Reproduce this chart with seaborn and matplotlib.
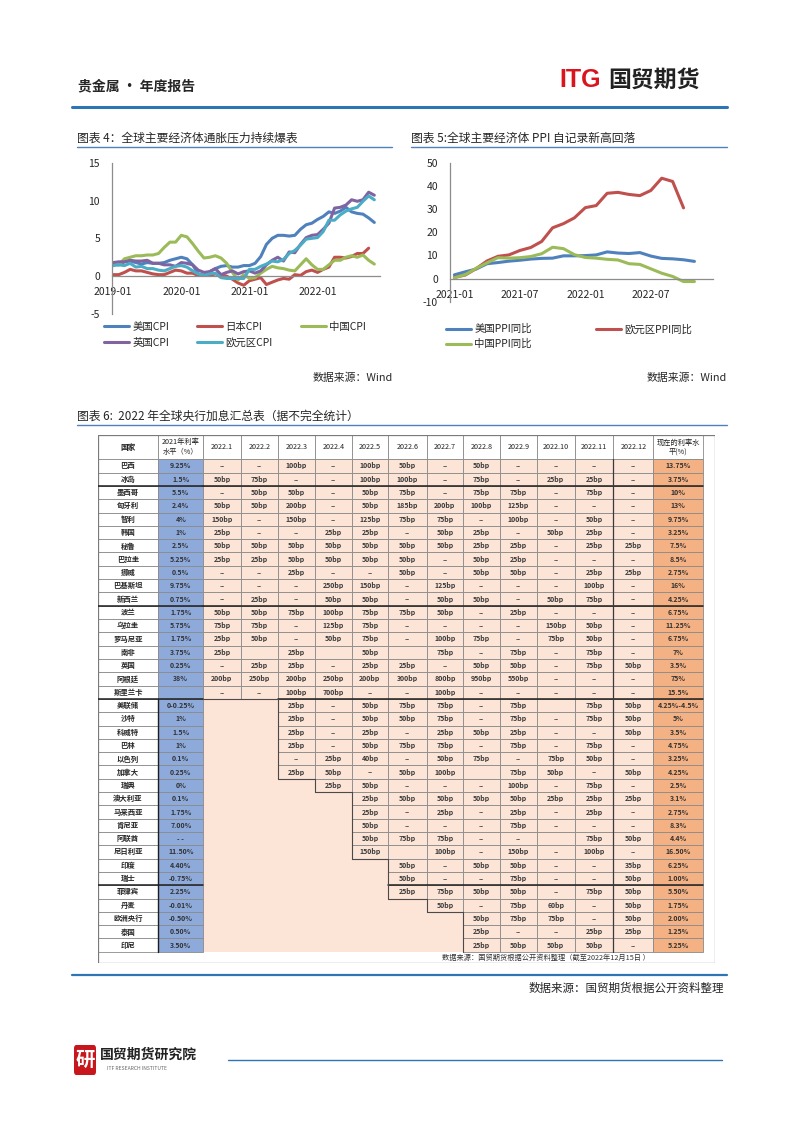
import numpy as np
import pandas as pd
import matplotlib
matplotlib.use("Agg")
import matplotlib.pyplot as plt
import seaborn as sns
from matplotlib.patches import Rectangle, FancyBboxPatch
from matplotlib.lines import Line2D

sns.set_theme(style="white")
plt.rcParams["font.family"] = ["Noto Sans CJK SC", "DejaVu Sans"]
plt.rcParams["axes.unicode_minus"] = False

# ---------------- data: chart 4 (CPI YoY, 2019-01 .. 2022-11) ----------------
cpi_ticks = ["2019-01", "2020-01", "2021-01", "2022-01"]
us_cpi = [1.6, 1.5, 1.9, 2.0, 1.8, 1.6, 1.8, 1.7, 1.7, 1.8, 2.1, 2.3,
          2.5, 2.3, 1.5, 0.3, 0.1, 0.6, 1.0, 1.3, 1.4, 1.2, 1.2, 1.4,
          1.4, 1.7, 2.6, 4.2, 5.0, 5.4, 5.4, 5.3, 5.4, 6.2, 6.8, 7.0,
          7.5, 7.9, 8.5, 8.3, 8.6, 9.1, 8.5, 8.3, 8.2, 7.7, 7.1]
jp_cpi = [0.2, 0.2, 0.5, 0.9, 0.7, 0.7, 0.5, 0.3, 0.2, 0.2, 0.5, 0.8,
          0.7, 0.4, 0.4, 0.1, 0.1, 0.1, 0.3, 0.2, 0.0, -0.4, -0.9, -1.2,
          -0.6, -0.4, -0.2, -1.1, -0.8, -0.5, -0.3, -0.4, 0.2, 0.1, 0.6, 0.8,
          0.5, 0.9, 1.2, 2.5, 2.5, 2.4, 2.6, 3.0, 3.0, 3.7]
cn_cpi = [1.7, 1.5, 2.3, 2.5, 2.7, 2.7, 2.8, 2.8, 3.0, 3.8, 4.5, 4.5,
          5.4, 5.2, 4.3, 3.3, 2.4, 2.5, 2.7, 2.4, 1.7, 0.5, -0.5, 0.2,
          -0.3, -0.2, 0.4, 0.9, 1.3, 1.1, 1.0, 0.8, 0.7, 1.5, 2.3, 1.5,
          0.9, 0.9, 1.5, 2.1, 2.1, 2.5, 2.7, 2.5, 2.8, 2.1, 1.6]
uk_cpi = [1.8, 1.9, 1.9, 2.1, 2.0, 2.0, 2.1, 1.7, 1.7, 1.5, 1.5, 1.3,
          1.8, 1.7, 1.5, 0.8, 0.5, 0.6, 1.0, 0.2, 0.5, 0.7, 0.3, 0.6,
          0.7, 0.4, 0.7, 1.5, 2.1, 2.5, 2.0, 3.2, 3.1, 4.2, 5.1, 5.4,
          5.5, 6.2, 7.0, 9.0, 9.1, 9.4, 10.1, 9.9, 10.1, 11.1, 10.7]
ea_cpi = [1.4, 1.5, 1.4, 1.7, 1.2, 1.3, 1.0, 1.0, 0.8, 0.7, 1.0, 1.3,
          1.4, 1.2, 0.7, 0.3, 0.1, 0.3, 0.4, -0.2, -0.3, -0.3, -0.3, -0.3,
          0.9, 0.9, 1.3, 1.6, 2.0, 1.9, 2.2, 3.0, 3.4, 4.1, 4.9, 5.0,
          5.1, 5.9, 7.4, 7.4, 8.1, 8.6, 8.9, 9.1, 9.9, 10.6, 10.1]

# ---------------- data: chart 5 (PPI YoY, 2021-01 .. 2022-11) ----------------
ppi_ticks = ["2021-01", "2021-07", "2022-01", "2022-07"]
us_ppi = [1.6, 2.9, 4.1, 6.4, 6.9, 7.5, 7.9, 8.4, 8.7, 8.8, 9.8, 9.8,
          9.9, 10.2, 11.5, 11.0, 10.8, 11.2, 9.7, 8.7, 8.5, 8.1, 7.4]
ea_ppi = [0.5, 1.5, 4.3, 7.6, 9.6, 10.2, 12.1, 13.4, 16.0, 21.9, 23.7, 26.2,
          30.6, 31.5, 36.8, 37.2, 36.3, 35.8, 38.0, 43.3, 41.9, 30.5]
cn_ppi = [0.3, 1.7, 4.4, 6.8, 9.0, 8.8, 9.0, 9.5, 10.7, 13.5, 12.9, 10.3,
          9.1, 8.8, 8.3, 8.0, 6.4, 6.1, 4.2, 2.3, 0.9, -1.3, -1.3]

# ---------------- data: table ----------------
table_header = ["国家", "2021年利率\n水平（%）", "2022.1", "2022.2", "2022.3", "2022.4",
                "2022.5", "2022.6", "2022.7", "2022.8", "2022.9", "2022.10",
                "2022.11", "2022.12", "现在的利率水\n平(%)"]
countries = ["巴西", "冰岛", "墨西哥", "匈牙利", "智利", "韩国", "秘鲁", "巴拉圭", "挪威",
             "巴基斯坦", "新西兰", "波兰", "乌拉圭", "罗马尼亚", "南非", "英国", "阿根廷",
             "斯里兰卡", "美联储", "沙特", "科威特", "巴林", "以色列", "加拿大", "瑞典",
             "澳大利亚", "马来西亚", "肯尼亚", "阿联酋", "尼日利亚", "印度", "瑞士", "菲律宾",
             "丹麦", "欧洲央行", "泰国", "印尼"]
rate_2021 = ["9.25%", "1.5%", "5.5%", "2.4%", "4%", "1%", "2.5%", "5.25%", "0.5%",
             "9.75%", "0.75%", "1.75%", "5.75%", "1.75%", "3.75%", "0.25%", "38%",
             "", "0-0.25%", "1%", "1.5%", "1%", "0.1%", "0.25%", "0%",
             "0.1%", "1.75%", "7.00%", "- -", "11.50%", "4.40%", "-0.75%", "2.25%",
             "-0.01%", "-0.50%", "0.50%", "3.50%"]
# monthly hikes; each row runs from its first active month up to 2022.12
hikes = [
    ["--", "--", "100bp", "--", "100bp", "50bp", "--", "50bp", "--", "--", "--", "--"],
    ["50bp", "75bp", "--", "--", "100bp", "100bp", "--", "75bp", "--", "25bp", "25bp", "--"],
    ["--", "50bp", "50bp", "--", "50bp", "75bp", "--", "75bp", "75bp", "--", "75bp", "--"],
    ["50bp", "50bp", "200bp", "--", "50bp", "185bp", "200bp", "100bp", "125bp", "--", "--", "--"],
    ["150bp", "--", "150bp", "--", "125bp", "75bp", "75bp", "--", "100bp", "--", "50bp", "--"],
    ["25bp", "--", "--", "25bp", "25bp", "--", "50bp", "25bp", "--", "50bp", "25bp", "--"],
    ["50bp", "50bp", "50bp", "50bp", "50bp", "50bp", "50bp", "25bp", "25bp", "--", "25bp", "25bp"],
    ["25bp", "25bp", "50bp", "50bp", "50bp", "50bp", "--", "50bp", "25bp", "--", "--", "--"],
    ["--", "--", "25bp", "--", "--", "50bp", "--", "50bp", "50bp", "--", "25bp", "25bp"],
    ["--", "--", "--", "250bp", "150bp", "--", "125bp", "--", "--", "--", "100bp", "--"],
    ["--", "25bp", "--", "50bp", "50bp", "--", "50bp", "50bp", "--", "50bp", "75bp", "--"],
    ["50bp", "50bp", "75bp", "100bp", "75bp", "75bp", "50bp", "--", "25bp", "--", "--", "--"],
    ["75bp", "75bp", "--", "125bp", "75bp", "--", "--", "--", "--", "150bp", "50bp", "--"],
    ["25bp", "50bp", "--", "50bp", "75bp", "--", "100bp", "75bp", "--", "75bp", "50bp", "--"],
    ["25bp", "", "25bp", "", "50bp", "", "75bp", "--", "75bp", "--", "75bp", "--"],
    ["--", "25bp", "25bp", "--", "25bp", "25bp", "--", "50bp", "50bp", "--", "75bp", "50bp"],
    ["200bp", "250bp", "200bp", "250bp", "200bp", "300bp", "800bp", "950bp", "550bp", "--", "--", "--"],
    ["--", "--", "100bp", "700bp", "--", "--", "100bp", "--", "--", "--", "--", "--"],
    ["25bp", "--", "50bp", "75bp", "75bp", "--", "75bp", "", "75bp", "50bp"],
    ["25bp", "--", "50bp", "50bp", "75bp", "--", "75bp", "--", "75bp", "50bp"],
    ["25bp", "--", "25bp", "--", "25bp", "50bp", "25bp", "--", "--", "50bp"],
    ["25bp", "--", "50bp", "75bp", "75bp", "--", "75bp", "--", "75bp", "--"],
    ["--", "25bp", "40bp", "--", "50bp", "75bp", "--", "75bp", "50bp", "--"],
    ["25bp", "50bp", "--", "50bp", "100bp", "", "75bp", "50bp", "--", "50bp"],
    ["25bp", "50bp", "--", "--", "--", "100bp", "--", "75bp", "--"],
    ["25bp", "50bp", "50bp", "50bp", "50bp", "25bp", "25bp", "25bp"],
    ["25bp", "--", "25bp", "--", "25bp", "--", "25bp", "--"],
    ["50bp", "--", "--", "--", "75bp", "--", "--", "--"],
    ["50bp", "75bp", "75bp", "--", "--", "", "75bp", "50bp"],
    ["150bp", "", "100bp", "--", "150bp", "--", "100bp", "--"],
    ["50bp", "--", "50bp", "50bp", "--", "--", "35bp"],
    ["50bp", "--", "--", "75bp", "--", "--", "50bp"],
    ["25bp", "75bp", "50bp", "50bp", "--", "75bp", "50bp"],
    ["50bp", "--", "75bp", "60bp", "--", "50bp"],
    ["50bp", "75bp", "75bp", "--", "50bp"],
    ["25bp", "--", "--", "25bp", "25bp"],
    ["25bp", "50bp", "50bp", "50bp", "--"],
]
rate_now = ["13.75%", "3.75%", "10%", "13%", "9.75%", "3.25%", "7.5%", "8.5%", "2.75%",
            "16%", "4.25%", "6.75%", "11.25%", "6.75%", "7%", "3.5%", "75%", "15.5%",
            "4.25%-4.5%", "5%", "3.5%", "4.75%", "3.25%", "4.25%", "2.5%", "3.1%", "2.75%",
            "8.3%", "4.4%", "16.50%", "6.25%", "1.00%", "5.50%", "1.75%", "2.00%", "1.25%",
            "5.25%"]

# ---------------- layout helpers ----------------
W, H = 802, 1133
fig = plt.figure(figsize=(W / 100, H / 100), dpi=100)
fig.patch.set_facecolor("white")


def fx(x):
    return x / W


def fy(y):
    return 1 - y / H


def px_axes(x0, y0, x1, y1):
    return fig.add_axes([x0 / W, 1 - y1 / H, (x1 - x0) / W, (y1 - y0) / H])


def hline(x0, x1, y, color, lw):
    fig.add_artist(Line2D([fx(x0), fx(x1)], [fy(y), fy(y)], color=color, lw=lw,
                          transform=fig.transFigure))


BLUE, RED, GREEN, PURPLE, CYAN = "#4F81BD", "#C0504D", "#9BBB59", "#8064A2", "#4BACC6"
AXC = "#8C8C8C"
TXT = "#262626"

# ---------------- header ----------------
fig.text(fx(78), fy(86), "贵金属 · 年度报告", fontsize=10, weight="bold", color=TXT, va="center")
fig.text(fx(559), fy(80), "ITG", fontsize=18, weight="bold", color="#D9151E", va="center",
         family="Liberation Sans")
fig.text(fx(608), fy(80), "国贸期货", fontsize=16.5, weight="bold", color="#222222", va="center")
hline(72, 727, 107, "#2E75B6", 2.2)


def style_axes(ax, ylim, yticks, xlim, xticks, xlabels, xpad, ypad):
    ax.set_xlim(*xlim)
    ax.set_ylim(*ylim)
    ax.set_yticks(yticks)
    ax.set_yticklabels([str(v) for v in yticks])
    ax.set_xticks(xticks)
    ax.set_xticklabels(xlabels)
    ax.set_xlabel("")
    ax.set_ylabel("")
    ax.grid(False)
    ax.set_facecolor("none")
    for s in ["top", "right"]:
        ax.spines[s].set_visible(False)
    ax.spines["bottom"].set_position(("data", 0))
    for s in ["left", "bottom"]:
        ax.spines[s].set_color(AXC)
        ax.spines[s].set_linewidth(0.9)
    ax.tick_params(axis="x", length=0, pad=xpad, labelsize=7.5, labelcolor=TXT)
    ax.tick_params(axis="y", length=0, pad=ypad, labelsize=7.5, labelcolor=TXT)


# ---------------- chart 4 ----------------
fig.text(fx(77), fy(138), "图表 4：全球主要经济体通胀压力持续爆表", fontsize=8.5, color=TXT, va="center")
hline(77, 392, 147, "#4F81BD", 1.0)

ax1 = px_axes(111.7, 162.7, 380, 314)
lw = 2.2
sns.lineplot(x=list(range(len(us_cpi))), y=us_cpi, ax=ax1, color=BLUE, lw=lw, label="美国CPI")
sns.lineplot(x=list(range(len(jp_cpi))), y=jp_cpi, ax=ax1, color=RED, lw=lw, label="日本CPI")
sns.lineplot(x=list(range(len(cn_cpi))), y=cn_cpi, ax=ax1, color=GREEN, lw=lw, label="中国CPI")
sns.lineplot(x=list(range(len(uk_cpi))), y=uk_cpi, ax=ax1, color=PURPLE, lw=lw, label="英国CPI")
sns.lineplot(x=list(range(len(ea_cpi))), y=ea_cpi, ax=ax1, color=CYAN, lw=lw, label="欧元区CPI")
style_axes(ax1, (-5, 15), [-5, 0, 5, 10, 15], (-0.25, 47), [0, 12, 24, 36], cpi_ticks, 7.5, 8.4)
h, l = ax1.get_legend_handles_labels()
order = [0, 3, 1, 4, 2]
ax1.legend([h[i] for i in order], [l[i] for i in order], ncol=3, loc="upper left",
           bbox_to_anchor=(fx(104), fy(322)), bbox_transform=fig.transFigure,
           frameon=False, fontsize=7.5, handlelength=2.4, handletextpad=0.3,
           columnspacing=2.7, labelspacing=0.55, borderaxespad=0, borderpad=0)
fig.text(fx(393), fy(378), "数据来源：Wind", fontsize=7.8, color=TXT, ha="right", va="center")

# ---------------- chart 5 ----------------
fig.text(fx(411), fy(138), "图表 5:全球主要经济体 PPI 自记录新高回落", fontsize=8.5, color=TXT, va="center")
hline(411, 727, 147, "#4F81BD", 1.0)

ax2 = px_axes(450, 162.7, 713, 301.7)
sns.lineplot(x=list(range(len(us_ppi))), y=us_ppi, ax=ax2, color=BLUE, lw=lw, label="美国PPI同比")
sns.lineplot(x=list(range(len(ea_ppi))), y=ea_ppi, ax=ax2, color=RED, lw=lw, label="欧元区PPI同比")
sns.lineplot(x=list(range(len(cn_ppi))), y=cn_ppi, ax=ax2, color=GREEN, lw=lw, label="中国PPI同比")
style_axes(ax2, (-10, 50), [-10, 0, 10, 20, 30, 40, 50], (-0.4, 23.7), [0, 6, 12, 18], ppi_ticks, 8.0, 8.6)
h, l = ax2.get_legend_handles_labels()
order = [0, 2, 1]
ax2.legend([h[i] for i in order], [l[i] for i in order], ncol=2, loc="upper left",
           bbox_to_anchor=(fx(446), fy(324)), bbox_transform=fig.transFigure,
           frameon=False, fontsize=7.5, handlelength=2.4, handletextpad=0.3,
           columnspacing=6.2, labelspacing=0.45, borderaxespad=0, borderpad=0)
fig.text(fx(727), fy(378), "数据来源：Wind", fontsize=7.8, color=TXT, ha="right", va="center")

# ---------------- chart 6 (table) ----------------
fig.text(fx(77), fy(416), "图表 6:  2022 年全球央行加息汇总表（据不完全统计）", fontsize=8.5, color=TXT, va="center")
hline(77, 727, 425, "#4F81BD", 1.0)

col_w = [60.6, 45, 37.4, 37.6, 36.7, 36.7, 36.6, 38.4, 36.6, 36.7, 36.7, 38.3, 38.3, 40, 50]
head_h, row_h, foot_h = 24.3, 13.31, 11.3
xe = np.concatenate([[0], np.cumsum(col_w)])
n = len(countries)
total_w = 617.3
total_h = head_h + n * row_h + foot_h

axt = px_axes(97.7, 435, 97.7 + total_w, 435 + total_h)
axt.set_xlim(0, total_w)
axt.set_ylim(total_h, 0)
axt.axis("off")

PEACH, BLUEC, ORANGE, GRID = "#FCE4D6", "#8EAADB", "#F4B183", "#8A8A8A"


def ry(i):
    return head_h + i * row_h


def cell(c, i, face, text, bold=True, size=5.0, color="#3A3A3A", edge=True):
    x0 = xe[c]
    w = xe[c + 1] - xe[c]
    if i < 0:
        y0, hh = 0, head_h
    else:
        y0, hh = ry(i), row_h
    axt.add_patch(Rectangle((x0, y0), w, hh, facecolor=face,
                            edgecolor=GRID if edge else "none", lw=0.6))
    if text:
        axt.text(x0 + w / 2, y0 + hh / 2, text, ha="center", va="center",
                 fontsize=size, color=color, weight="bold" if bold else "normal",
                 linespacing=1.25)


# peach background block behind month columns
axt.add_patch(Rectangle((xe[2], head_h), xe[14] - xe[2], n * row_h, facecolor=PEACH, edgecolor="none"))

for c, t in enumerate(table_header):
    cell(c, -1, "white", t, bold=(c == 0), size=5.2 if c != 0 else 5.5, color="#222222")

starts = []
for i in range(n):
    cell(0, i, "white", countries[i], size=5.3, color="#2A2A2A")
    cell(1, i, BLUEC, rate_2021[i], size=5.0, color="#333333")
    st = 12 - len(hikes[i])
    starts.append(st)
    for k, v in enumerate(hikes[i]):
        col = 2 + st + k
        cell(col, i, PEACH, v, size=5.0, color="#555555" if v == "--" else "#3A3A3A")
    cell(14, i, ORANGE, rate_now[i], size=5.0, color="#333333")

# darker separator lines (as in the source spreadsheet)
DARK = "#1E1E1E"
for r in [1, 10, 17, 31]:
    y = ry(r + 1)
    st = max(starts[r], starts[r + 1]) if r + 1 < n else starts[r]
    axt.plot([0, xe[2]], [y, y], color=DARK, lw=1.1)
    axt.plot([xe[2 + st], xe[15]], [y, y], color=DARK, lw=1.1)
axt.plot([xe[1], xe[1]], [ry(18), ry(n)], color=DARK, lw=1.0)
axt.plot([xe[13], xe[13]], [ry(0), ry(n)], color="#3A3A3A", lw=0.9)
# staircase edge of the first active cells
for i in range(18, n):
    st = starts[i]
    axt.plot([xe[2 + st], xe[2 + st]], [ry(i), ry(i + 1)], color="#4A4A4A", lw=0.8)
    if i == 18 or starts[i - 1] != st:
        axt.plot([xe[2 + st], xe[2 + (starts[i - 1] if i > 18 else 0)]], [ry(i), ry(i)],
                 color="#4A4A4A", lw=0.8)

# outer frame & source row
axt.add_patch(Rectangle((0, 0), total_w, total_h, facecolor="none", edgecolor="#7A7A7A", lw=0.9))
axt.text(xe[14] - 3, ry(n) + foot_h / 2, "数据来源：国贸期货根据公开资料整理（截至2022年12月15日 ）",
         ha="right", va="center", fontsize=5.2, color="#333333")

# ---------------- bottom source & footer ----------------
hline(72, 727, 975, "#2E75B6", 1.6)
fig.text(fx(724), fy(988), "数据来源：国贸期货根据公开资料整理", fontsize=8.3, color=TXT,
         ha="right", va="center")

logo = FancyBboxPatch((fx(74), fy(1075)), fx(22), 30 / H, boxstyle="round,pad=0,rounding_size=0.003",
                      transform=fig.transFigure, facecolor="#C8161D", edgecolor="none")
fig.add_artist(logo)
fig.text(fx(85), fy(1060), "研", fontsize=14, weight="bold", color="white", ha="center", va="center")
fig.text(fx(100), fy(1055), "国贸期货研究院", fontsize=10, weight="bold", color="#222222", va="center")
fig.text(fx(107), fy(1069), "ITF RESEARCH INSTITUTE", fontsize=3.6, color="#666666", va="center")
hline(228, 722, 1060, "#2E75B6", 1.0)

fig.savefig("out.png", dpi=100, facecolor="white")
